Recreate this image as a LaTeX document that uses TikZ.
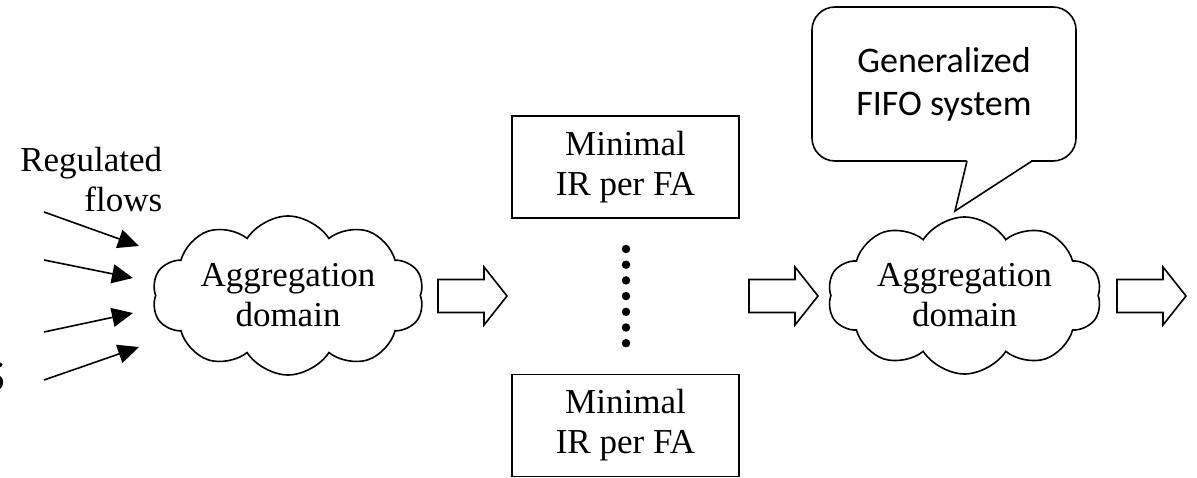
\documentclass[tikz,border=0pt]{standalone}
\usepackage{fontspec}
\setmainfont{Liberation Serif}
\newfontfamily\calloutfont{Carlito}
\usetikzlibrary{shapes.symbols,arrows.meta}
\begin{document}
\begin{tikzpicture}[x=1pt,y=-1pt,
  line width=1.6pt,
  serif/.style={font=\fontsize{35}{40}\selectfont, align=center},
  aggcloud/.style={draw, cloud, cloud puffs=10, cloud puff arc=115,
    cloud ignores aspect, inner sep=0pt, serif},
  irbox/.style={draw, rectangle, inner sep=0pt, minimum width=227pt,
    minimum height=102pt, serif},
  flow/.style={-{Triangle[length=21pt,width=19pt]}},
  fatarrow/.pic={\draw[line width=1.6pt, line join=miter]
    (0,-16.5) -- (46,-16.5) -- (46,-29) -- (69,0) -- (46,29)
    -- (46,16.5) -- (0,16.5) -- cycle;},
  dot/.style={circle, fill, inner sep=0pt, minimum size=8.5pt}]
\useasboundingbox (0,0) rectangle (1197,478);

% incoming regulated flows
\node[serif, align=right, anchor=east, inner sep=0pt] (label) at (163,180) {Regulated\\flows};
\node[font=\calloutfont\fontsize{62}{62}\selectfont, anchor=east, inner sep=0pt] (cut) at (7,377) {s};

\node[aggcloud, minimum width=272pt, minimum height=159pt] (dom1) at (288,295.5) {Aggregation\\domain};

\coordinate (f1s) at (44,212);  \coordinate (f1e) at (139,246);
\coordinate (f2s) at (44,260);  \coordinate (f2e) at (133,278);
\coordinate (f3s) at (44,332);  \coordinate (f3e) at (133,313);
\coordinate (f4s) at (44,380);  \coordinate (f4e) at (139,347);
\draw[flow] (f1s) -- (f1e);
\draw[flow] (f2s) -- (f2e);
\draw[flow] (f3s) -- (f3e);
\draw[flow] (f4s) -- (f4e);

% per-aggregate interleaving regulators
\node[irbox] (ir1) at (625.5,167) {Minimal\\IR per FA};
\node[irbox] (ir2) at (625.5,425.5) {Minimal\\IR per FA};
\foreach \k in {0,...,6}
  \node[dot] (d\k) at (626,249+15.7*\k) {};

\pic at (438,296) {fatarrow};
\pic at (749,296) {fatarrow};
\pic at (1117,296) {fatarrow};

% second aggregation domain with its callout
\node[aggcloud, minimum width=274pt, minimum height=157pt] (dom2) at (964.5,295.5) {Aggregation\\domain};

\node[draw, rectangle, rounded corners=23pt, minimum width=264pt,
  minimum height=154pt, inner sep=0pt, align=center,
  font=\calloutfont\fontsize{36}{43}\selectfont] (note) at (944,84) {Generalized\\FIFO system};
\coordinate (tip) at (955,211);
\path[fill=white] (967.5,158) -- (955,205) -- (1031.5,158) -- cycle;
\fill[white] (968,158) rectangle (1031,163.5);
\draw[line join=miter] (967,161) -- (tip) -- (1032,161);
\end{tikzpicture}
\end{document}
